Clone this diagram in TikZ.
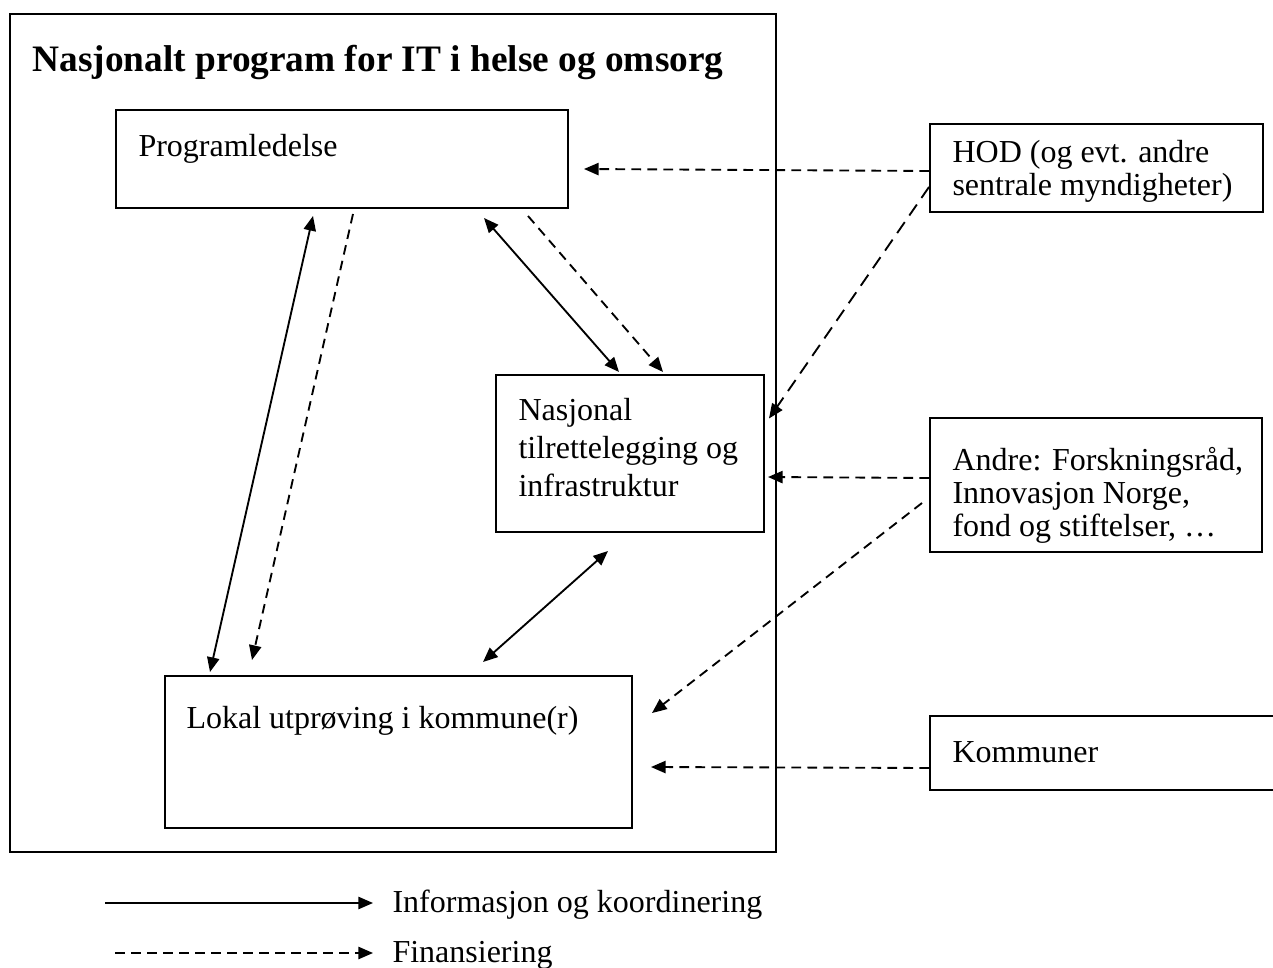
\documentclass[tikz,border=0pt]{standalone}
\usepackage{fontspec}
\setmainfont{Liberation Serif}
\usetikzlibrary{arrows.meta}
\begin{document}
\begin{tikzpicture}[x=.375pt, y=-.375pt, >={Triangle[length=5.5pt, width=4.6pt]},
    box/.style={draw, line width=.75pt, inner sep=0pt},
    txt/.style={anchor=base west, inner sep=0pt, align=left, font=\fontsize{12pt}{12.4pt}\selectfont},
    info/.style={line width=.7pt},
    fin/.style={line width=.7pt, dash pattern=on 3.6pt off 2.4pt}]
	\useasboundingbox (0, 0) rectangle (1273, 968);
	% boxes
	\node [box, minimum width=766*.375pt, minimum height=838*.375pt] (prg) at (393, 433) {};
	\node [box, minimum width=452*.375pt, minimum height=98*.375pt] (led) at (342, 159) {};
	\node [box, minimum width=268*.375pt, minimum height=157*.375pt] (nas) at (630, 453.5) {};
	\node [box, minimum width=467*.375pt, minimum height=152*.375pt] (lok) at (398.5, 752) {};
	\node [box, minimum width=333*.375pt, minimum height=88*.375pt] (hod) at (1096.5, 168) {};
	\node [box, minimum width=332*.375pt, minimum height=134*.375pt] (and) at (1096, 485) {};
	\node [box, minimum width=360*.375pt, minimum height=74*.375pt] (kom) at (1110, 753) {};
	% texts (base = last line)
	\node [txt, font=\fontsize{14pt}{16pt}\selectfont\bfseries] (prg text) at (32, 72)
	  {Nasjonalt program for IT i helse og omsorg};
	\node [txt] (led text) at (138, 157) {Programledelse};
	\node [txt, font=\fontsize{12pt}{14.25pt}\selectfont] (nas text) at (518, 497)
	  {Nasjonal\\tilrettelegging og\\infrastruktur};
	\node [txt] (lok text) at (186, 728) {Lokal utprøving i kommune(r)};
	\node [txt] (hod text) at (952, 196) {HOD (og evt. andre\\sentrale myndigheter)};
	\node [txt] (and text) at (952, 537) {Andre: Forskningsråd,\\Innovasjon Norge,\\fond og stiftelser, \dots};
	\node [txt] (kom text) at (952, 762) {Kommuner};
	% connectors
	\draw [info, <->] ([shift={(142, 9)}]led.south) -- ([shift={(-11, -2)}]nas.north);
	\draw [fin, ->] ([shift={(186, 7)}]led.south) -- ([shift={(33, -2)}]nas.north);
	\draw [info, <->] ([shift={(-29, 7)}]led.south) -- ([shift={(-188.5, -3)}]lok.north);
	\draw [fin, ->] ([shift={(11, 5)}]led.south) -- ([shift={(-146.5, -15)}]lok.north);
	\draw [info, <->] ([shift={(-22, 18)}]nas.south) -- ([shift={(84.5, -13)}]lok.north);
	\draw [fin, ->] ([shift={(0, 3)}]hod.west) -- ([shift={(15, 10)}]led.east);
	\draw [fin, ->, dash pattern=on 5pt off 3pt] ([shift={(0, 19)}]hod.west) -- ([shift={(4, -35)}]nas.east);
	\draw [fin, ->] ([shift={(0, -7)}]and.west) -- ([shift={(3, 23.5)}]nas.east);
	\draw [fin, ->] ([shift={(-7, 18)}]and.west) -- ([shift={(19, -39)}]lok.east);
	\draw [fin, ->] ([shift={(0, 15)}]kom.west) -- ([shift={(18, 15)}]lok.east);
	% legend
	\node [txt] (inf text) at (392, 912) {Informasjon og koordinering};
	\node [txt] (fin text) at (392, 962) {Finansiering};
	\coordinate (inf start) at (105, 903);
	\coordinate (fin start) at (115, 953);
	\draw [info, ->] (inf start) -- (inf start -| 373, 0);
	\draw [fin, ->] (fin start) -- (fin start -| 373, 0);
\end{tikzpicture}
\end{document}
